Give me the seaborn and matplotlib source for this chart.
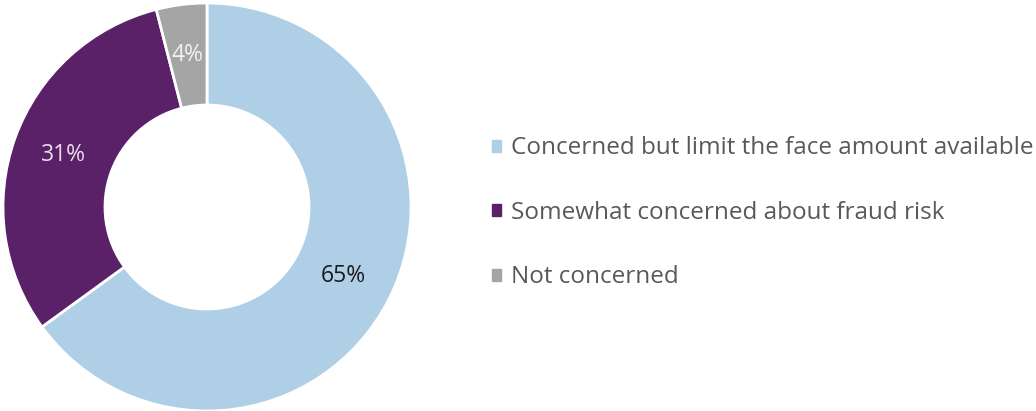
import matplotlib.pyplot as plt
import matplotlib.patches as mpatches
import seaborn as sns

# data
labels = ['Concerned but limit the face amount available',
          'Somewhat concerned about fraud risk',
          'Not concerned']
values = [65, 31, 4]
colors = ['#AFCFE6', '#5A2169', '#A5A5A5']
pct_colors = ['#1A1A1A', '#E6E0EA', '#F2F2F2']

sns.set_theme(style="white")
plt.rcParams['font.family'] = ['Open Sans', 'DejaVu Sans']

fig = plt.figure(figsize=(10.36, 4.11), dpi=100)
ax = fig.add_axes([3 / 1036, 0 / 411, 408 / 1036, 408 / 411])

wedges, texts, autotexts = ax.pie(
    values, colors=colors, startangle=90, counterclock=False,
    autopct='%d%%', pctdistance=0.75, radius=1,
    wedgeprops=dict(width=0.5, edgecolor='white', linewidth=2),
    textprops=dict(fontsize=16.5))
for t, c in zip(autotexts, pct_colors):
    t.set_color(c)
ax.set_xlim(-1, 1)
ax.set_ylim(-1, 1)
ax.set_aspect('equal')
ax.axis('off')

handles = [mpatches.Patch(color=c, label=l) for c, l in zip(colors, labels)]
leg = fig.legend(handles=handles, loc='center left',
                 bbox_to_anchor=(470 / 1036, 0.482), frameon=False,
                 fontsize=17.5, labelspacing=1.67, handlelength=0.38,
                 handleheight=0.38, handletextpad=0.4, labelcolor='#595959')

fig.savefig('out.png', dpi=100)
